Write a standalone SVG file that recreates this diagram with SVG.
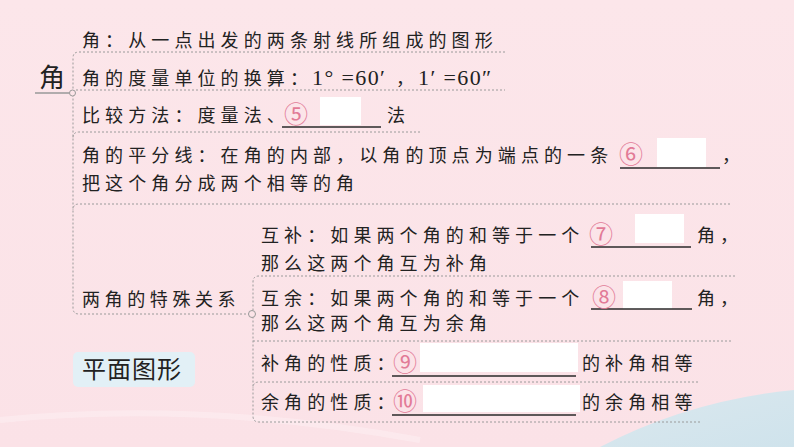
<svg xmlns="http://www.w3.org/2000/svg" width="794" height="447" viewBox="0 0 794 447">
<style>
.t{font-family:"Noto Sans CJK SC","Noto Sans",sans-serif;font-size:18px;fill:#222;letter-spacing:5.1px}
.ns{letter-spacing:0}
.num{font-family:"Liberation Serif",serif;font-size:22px;letter-spacing:1.4px}
.c{font-family:"Noto Sans CJK SC","DejaVu Sans",sans-serif;font-size:24px;fill:#e27b97;letter-spacing:0}
.d{fill:none;stroke:#9a9a9a;stroke-width:1;stroke-dasharray:2 2}
.u{stroke:#2a2a2a;stroke-width:1.3}
.w{fill:#ffffff}
.dot{fill:#fce4e8;stroke:#999;stroke-width:1}
</style>
<defs>
<linearGradient id="bg" x1="0" y1="0" x2="0" y2="1">
<stop offset="0" stop-color="#fce6ea"/>
<stop offset="1" stop-color="#fbe2e7"/>
</linearGradient>
<linearGradient id="wave" x1="0" y1="0" x2="1" y2="1">
<stop offset="0" stop-color="#dbe8ee"/>
<stop offset="1" stop-color="#cfe3ec"/>
</linearGradient>
</defs>
<rect width="794" height="447" fill="url(#bg)"/>
<path d="M600 447 Q690 400 794 390 V447 Z" fill="url(#wave)"/>
<path d="M0 420 Q200 400 420 440" fill="none" stroke="#fdeef1" stroke-width="6" opacity="0.6"/>

<g id="connectors">
<line x1="35" y1="93" x2="70" y2="93" stroke="#999" stroke-width="1.3"/>
<path class="d" d="M505 52 H79 Q73 52 73 58 V308 Q73 314 79 314 H249"/>
<line class="d" x1="76" y1="90" x2="505" y2="90"/>
<path class="d" d="M420 132 H79 Q73 132 73 138"/>
<path class="d" d="M730 204 H79 Q73 204 73 210"/>
<path class="d" d="M735 276 H259 Q253 276 253 282 V416 Q253 422 259 422 H700"/>
<line class="d" x1="253" y1="341" x2="732" y2="341"/>
<path class="d" d="M698 382 H259 Q253 382 253 388"/>
<circle class="dot" cx="72.5" cy="93" r="3"/>
<circle class="dot" cx="252" cy="314" r="3.5"/>
</g>

<g id="root">
<text x="39" y="87" font-family="Noto Sans CJK SC,sans-serif" font-size="26" fill="#222">角</text>
</g>

<g id="n1"><text class="t" x="82" y="47">角：从一点出发的两条射线所组成的图形</text></g>

<g id="n2"><text class="t" x="82" y="85">角的度量单位的换算<tspan class="ns">：</tspan><tspan class="num" x="312">1° =60′</tspan><tspan class="ns" x="396">，</tspan><tspan class="num" x="418">1′ =60″</tspan></text></g>

<g id="n3">
<rect class="w" x="320" y="97" width="41" height="28"/>
<line class="u" x1="282" y1="127" x2="381" y2="127"/>
<text class="t" x="82" y="122">比较方法：度量法<tspan class="ns">、</tspan></text>
<text class="c" x="284" y="123">⑤</text>
<text class="t" x="387" y="122">法</text>
</g>

<g id="n4">
<rect class="w" x="657" y="138" width="49" height="29"/>
<line class="u" x1="620" y1="168" x2="720" y2="168"/>
<text class="t" x="82" y="162">角的平分线：在角的内部，以角的顶点为端点的一<tspan class="ns">条</tspan></text>
<text class="c" x="619" y="163">⑥</text>
<text class="t" x="722" y="162">，</text>
<text class="t" x="82" y="190">把这个角分成两个相等的角</text>
</g>

<g id="n5"><text class="t" x="82" y="306" style="letter-spacing:4.6px">两角的特殊关系</text></g>

<g id="n6">
<rect class="w" x="635" y="214" width="49" height="29"/>
<line class="u" x1="591" y1="247" x2="691" y2="247"/>
<text class="t" x="261" y="242">互补：如果两个角的和等于一<tspan class="ns">个</tspan></text>
<text class="c" x="589" y="243">⑦</text>
<text class="t" x="697" y="242">角，</text>
<text class="t" x="261" y="270">那么这两个角互为补角</text>
</g>

<g id="n7">
<rect class="w" x="623" y="281" width="49" height="28"/>
<line class="u" x1="591" y1="309" x2="692" y2="309"/>
<text class="t" x="261" y="305">互余：如果两个角的和等于一<tspan class="ns">个</tspan></text>
<text class="c" x="592" y="306">⑧</text>
<text class="t" x="697" y="305">角，</text>
<text class="t" x="261" y="330">那么这两个角互为余角</text>
</g>

<g id="n8">
<rect class="w" x="420" y="343" width="158" height="29"/>
<line class="u" x1="392" y1="376" x2="576" y2="376"/>
<text class="t" x="261" y="370">补角的性质<tspan class="ns">：</tspan></text>
<text class="c" x="393" y="371">⑨</text>
<text class="t" x="582" y="370">的补角相等</text>
</g>

<g id="n9">
<rect class="w" x="423" y="385" width="157" height="27"/>
<line class="u" x1="392" y1="415" x2="576" y2="415"/>
<text class="t" x="261" y="409">余角的性质<tspan class="ns">：</tspan></text>
<text class="c" x="393" y="410">⑩</text>
<text class="t" x="582" y="409">的余角相等</text>
</g>

<g id="title">
<rect x="73" y="352" width="122" height="35" rx="5" fill="#e2f0f6"/>
<text x="82" y="378" font-family="Noto Sans CJK SC,sans-serif" font-size="24" fill="#222" letter-spacing="1">平面图形</text>
</g>
</svg>
